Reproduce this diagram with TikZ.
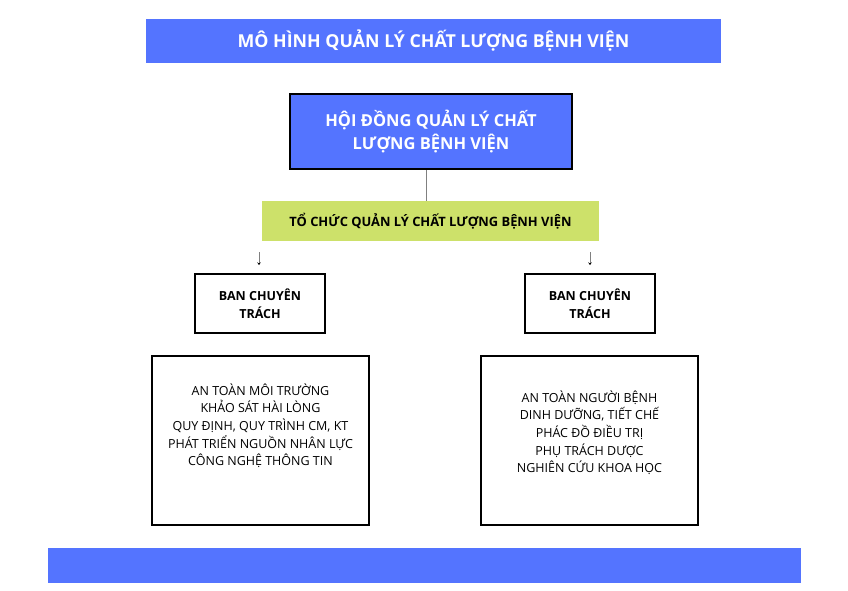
\documentclass[tikz,border=0pt]{standalone}
\usepackage{fontspec}
\setmainfont{Open Sans}
\usetikzlibrary{arrows.meta,positioning}
\definecolor{qlblue}{RGB}{84,116,255}
\definecolor{qlgreen}{RGB}{205,225,106}

\begin{document}
\begin{tikzpicture}[x=1pt,y=-1pt,
    bar/.style={fill=qlblue,inner sep=0pt},
    boxtext/.style={align=center,inner sep=0pt},
    banbox/.style={draw=black,line width=1.4pt,minimum width=130pt,minimum height=59pt,inner sep=0pt,
      align=center,font=\bfseries\fontsize{12.5}{17.5}\selectfont},
    listbox/.style={draw=black,line width=1.4pt,minimum width=217pt,minimum height=169pt,inner sep=0pt},
    listtext/.style={boxtext,font=\fontsize{12.5}{17.7}\selectfont}]
  \useasboundingbox (0,0) rectangle (848,591);
  % title and footer bars
  \node[bar,minimum width=575pt,minimum height=44pt,text=white,font=\bfseries\fontsize{17.8}{22}\selectfont]
    (title) at (433.5,41) {MÔ HÌNH QUẢN LÝ CHẤT LƯỢNG BỆNH VIỆN};
  \node[bar,minimum width=753pt,minimum height=35pt] (footer) at (424.5,565.5) {};
  % council
  \node[bar,draw=black,line width=2pt,minimum width=282pt,minimum height=75pt,text=white,align=center,
    font=\bfseries\fontsize{16.5}{23}\selectfont] (hoidong) at (431,131.5) {HỘI ĐỒNG QUẢN LÝ CHẤT\\LƯỢNG BỆNH VIỆN};
  \node[fill=qlgreen,minimum width=337pt,minimum height=40pt,inner sep=0pt,font=\bfseries\fontsize{12.9}{15}\selectfont]
    (tochuc) at (430.5,221) {TỔ CHỨC QUẢN LÝ CHẤT LƯỢNG BỆNH VIỆN};
  \draw[gray,line width=1pt] ([xshift=-5pt]hoidong.south) -- ([xshift=-5pt]hoidong.south |- tochuc.north);
  % two branches
  \node[banbox] (banL) at (260,303.5) {BAN CHUYÊN\\TRÁCH};
  \node[banbox] (banR) at (590,303.5) {BAN CHUYÊN\\TRÁCH};
  \coordinate (arrL) at (259,252); \coordinate (arrR) at (590,252);
  \foreach \a in {arrL,arrR}
    \draw[gray,line width=0.8pt,-{Stealth[length=2.5pt,width=3.5pt,black]}] (\a) -- ++(0,13);
  \node[listbox] (listL) at (260.5,440.5) {};
  \node[listbox] (listR) at (589.5,440.5) {};
  \node[listtext,below=28pt of listL.north] (textL)
    {AN TOÀN MÔI TRƯỜNG\\KHẢO SÁT HÀI LÒNG\\QUY ĐỊNH, QUY TRÌNH CM, KT\\PHÁT TRIỂN NGUỒN NHÂN LỰC\\CÔNG NGHỆ THÔNG TIN};
  \node[listtext,below=35pt of listR.north] (textR)
    {AN TOÀN NGƯỜI BỆNH\\DINH DƯỠNG, TIẾT CHẾ\\PHÁC ĐỒ ĐIỀU TRỊ\\PHỤ TRÁCH DƯỢC\\NGHIÊN CỨU KHOA HỌC};
\end{tikzpicture}
\end{document}
